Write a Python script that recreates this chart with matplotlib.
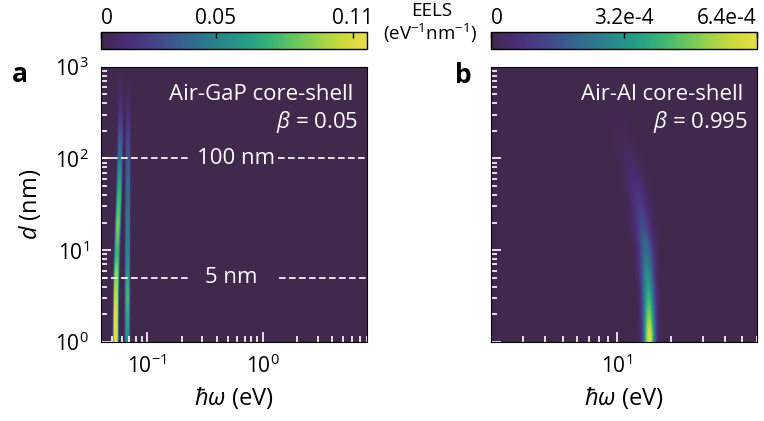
import matplotlib.pyplot as plt
import numpy as np
from matplotlib.colors import LinearSegmentedColormap
from matplotlib.ticker import NullFormatter

plt.rcParams["font.family"] = ["Open Sans", "DejaVu Sans"]
plt.rcParams["mathtext.fontset"] = "custom"
plt.rcParams["mathtext.rm"] = "Open Sans"
plt.rcParams["mathtext.it"] = "Open Sans:italic"
plt.rcParams["mathtext.bf"] = "Open Sans:bold"
plt.rcParams["font.size"] = 15

# ---- panel a: Air-GaP core-shell, beta = 0.05 ----
d_a = [1, 1.5, 2, 3, 4, 6, 9, 13, 20, 30, 50, 80, 120, 200, 350, 600, 1000]
# lower phonon branch
e1_a = [0.0533, 0.0533, 0.0534, 0.0536, 0.0538, 0.0542, 0.0547, 0.0552, 0.0558,
        0.0565, 0.0573, 0.0578, 0.0582, 0.0585, 0.0587, 0.0588, 0.0588]
amp1_a = [0.114, 0.114, 0.112, 0.106, 0.100, 0.094, 0.074, 0.082, 0.088, 0.080,
          0.070, 0.054, 0.042, 0.028, 0.014, 0.004, 0.0]
# upper phonon branch
e2_a = [0.0673, 0.0673, 0.0673, 0.0674, 0.0674, 0.0675, 0.0676, 0.0677, 0.0678,
        0.0679, 0.0680, 0.0681, 0.0682, 0.0683, 0.0683, 0.0683, 0.0683]
amp2_a = [0.058, 0.062, 0.068, 0.076, 0.072, 0.060, 0.055, 0.050, 0.046, 0.042,
          0.038, 0.034, 0.028, 0.020, 0.010, 0.003, 0.0]

# ---- panel b: Air-Al core-shell, beta = 0.995 ----
d_b = [1, 1.3, 1.8, 2.7, 5, 10, 20, 40, 80, 150, 300, 1000]
e_b = [15.2, 15.2, 15.15, 15.1, 14.9, 14.6, 13.9, 13.2, 12.2, 11.0, 10.0, 9.2]
amp_b = [6.4e-4, 6.1e-4, 5.2e-4, 4.3e-4, 3.2e-4, 2.2e-4, 1.4e-4, 0.85e-4,
         0.42e-4, 0.2e-4, 0.06e-4, 0.0]
wid_b = [0.021, 0.022, 0.023, 0.024, 0.026, 0.029, 0.033, 0.037, 0.041, 0.045,
         0.05, 0.055]

# colorbar ticks
ticks_a = [0, 0.05, 0.11]
ticklabels_a = ["0", "0.05", "0.11"]
vmax_a = 0.116
ticks_b = [0, 3.2e-4, 6.4e-4]
ticklabels_b = ["0", "3.2e-4", "6.4e-4"]
vmax_b = 6.4e-4

cmap = LinearSegmentedColormap.from_list(
    "muted_viridis",
    ["#41284d", "#4a2c74", "#463f87", "#3b598c", "#30718d", "#29878c",
     "#249e86", "#38b377", "#64c562", "#9ad24b", "#cdd93f", "#e6dd47"],
)


def peak_map(e, d, dd, centers, amps, widths, power=2):
    ld = np.log10(dd)
    c = np.interp(np.log10(d), ld, np.log10(centers))
    a = np.interp(np.log10(d), ld, amps)
    w = np.interp(np.log10(d), ld, widths)
    le = np.log10(e)
    u = np.abs((le[None, :] - c[:, None]) / w[:, None])
    return a[:, None] * np.exp(-0.5 * u ** power)


d_grid = np.logspace(0, 3, 400)
e_grid_a = np.logspace(np.log10(0.04), np.log10(8.0), 1500)
e_grid_b = np.logspace(np.log10(2.0), np.log10(60.0), 800)

z_a = peak_map(e_grid_a, d_grid, d_a, e1_a, amp1_a, [0.02] * len(d_a), power=4)
z_a += peak_map(e_grid_a, d_grid, d_a, e2_a, amp2_a, [0.019] * len(d_a), power=4)
z_b = peak_map(e_grid_b, d_grid, d_b, e_b, amp_b, wid_b)

W, H = 764, 421
fig = plt.figure(figsize=(W / 100, H / 100), dpi=100)


def px(x0, y0, x1, y1):
    return [x0 / W, 1 - y1 / H, (x1 - x0) / W, (y1 - y0) / H]


ax_a = fig.add_axes(px(101.3, 66.7, 366.7, 342))
ax_b = fig.add_axes(px(491, 66.7, 756.7, 342))
cax_a = fig.add_axes(px(101.3, 32, 366.7, 48.5))
cax_b = fig.add_axes(px(491, 32, 756.7, 48.5))

m_a = ax_a.pcolormesh(e_grid_a, d_grid, z_a, cmap=cmap, vmin=0, vmax=vmax_a,
                      shading="auto")
m_b = ax_b.pcolormesh(e_grid_b, d_grid, z_b, cmap=cmap, vmin=0, vmax=vmax_b,
                      shading="auto")

for ax, xlim in [(ax_a, (0.04, 8.0)), (ax_b, (2.0, 60.0))]:
    ax.set_xscale("log")
    ax.set_yscale("log")
    ax.set_xlim(*xlim)
    ax.set_ylim(1, 1000)
    ax.tick_params(which="both", direction="in", color="white", width=1.2,
                   top=False, right=False, labelsize=15, pad=9)
    ax.tick_params(which="major", length=7)
    ax.tick_params(which="minor", length=4)
    ax.xaxis.set_minor_formatter(NullFormatter())
    ax.yaxis.set_minor_formatter(NullFormatter())
    ax.set_xlabel(r"$\hbar\omega$ (eV)", fontsize=17, labelpad=5)
    for s in ax.spines.values():
        s.set_linewidth(0.8)

ax_b.set_yticklabels([])
ax_a.set_ylabel(r"$d$ (nm)", fontsize=17, labelpad=9)

# thickness markers
yt = ax_a.get_yaxis_transform()
for yv, lab, x_txt, gaps in [(100, "100 nm", 0.509, (0.33, 0.666)),
                              (5, "5 nm", 0.491, (0.33, 0.67))]:
    ax_a.plot([0, gaps[0]], [yv, yv], color="white", lw=1.2, dashes=(4, 2),
              transform=yt)
    ax_a.plot([gaps[1], 1], [yv, yv], color="white", lw=1.2, dashes=(4, 2),
              transform=yt)
    ax_a.text(x_txt, yv, lab, transform=yt, color="white", fontsize=16,
              ha="center", va="center")

ax_a.text(0.948, 0.879, "Air-GaP core-shell", transform=ax_a.transAxes,
          color="white", fontsize=16, ha="right", va="baseline")
ax_a.text(0.967, 0.777, r"$\beta$ = 0.05", transform=ax_a.transAxes,
          color="white", fontsize=16, ha="right", va="baseline")
ax_b.text(0.948, 0.879, "Air-Al core-shell", transform=ax_b.transAxes,
          color="white", fontsize=16, ha="right", va="baseline")
ax_b.text(0.967, 0.777, r"$\beta$ = 0.995", transform=ax_b.transAxes,
          color="white", fontsize=16, ha="right", va="baseline")

# colorbars
for cax, m, ticks, labels in [(cax_a, m_a, ticks_a, ticklabels_a),
                              (cax_b, m_b, ticks_b, ticklabels_b)]:
    cb = fig.colorbar(m, cax=cax, orientation="horizontal")
    cb.outline.set_linewidth(1.0)
    cax.xaxis.set_ticks_position("top")
    cax.xaxis.set_label_position("top")
    cb.set_ticks(ticks)
    cb.set_ticklabels(labels)
    cax.tick_params(direction="in", length=4, width=1, color="black",
                    labelsize=15, pad=2)
    tl = cax.get_xticklabels()
    tl[0].set_horizontalalignment("left")
    if cax is cax_b:
        tl[-1].set_horizontalalignment("right")

fig.text(432 / W, 1 - 11 / H, "EELS", ha="center", va="center", fontsize=13.5)
fig.text(430 / W, 1 - 33 / H, r"(eV$^{-1}$nm$^{-1}$)", ha="center",
         va="center", fontsize=13.5)

fig.text(12 / W, 1 - 82 / H, "a", fontsize=19, weight="bold", va="baseline")
fig.text(455 / W, 1 - 83 / H, "b", fontsize=19, weight="bold", va="baseline")

fig.savefig("out.png", dpi=100)
